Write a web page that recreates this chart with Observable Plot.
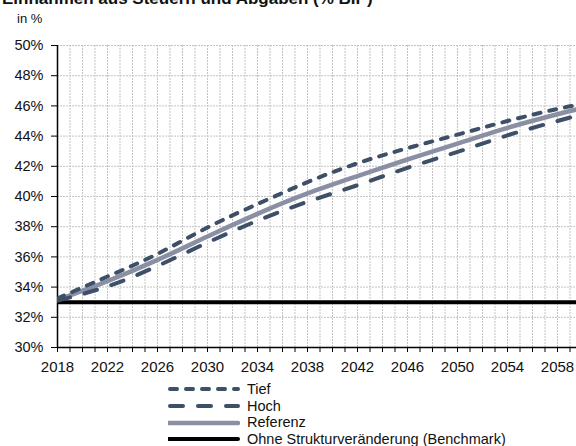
<!DOCTYPE html>
<html>
<head>
<meta charset="utf-8">
<script src="https://cdn.jsdelivr.net/npm/d3@7"></script>
<script src="https://cdn.jsdelivr.net/npm/@observablehq/plot@0.6"></script>
<style>
  html, body { margin: 0; padding: 0; background: #fff; overflow: hidden; }
  body { width: 576px; height: 446px; position: relative; font-family: "Liberation Sans", Arial, sans-serif; color: #111; }
  #title { position: absolute; left: 2px; top: -10px; font-size: 17px; font-weight: bold; line-height: 17px; white-space: nowrap; }
  #unit { position: absolute; left: 17px; top: 12px; font-size: 13px; line-height: 14px; }
  #chart { position: absolute; left: 0; top: 30px; }
  #legend { position: absolute; left: 168px; top: 381px; font-size: 14.5px; line-height: 16.7px; }
  #legend div { display: flex; align-items: center; height: 16.7px; white-space: nowrap; }
  #legend svg { margin-right: 7px; }
</style>
</head>
<body>
<div id="title">Einnahmen aus Steuern und Abgaben (% BIP)</div>
<div id="unit">in %</div>
<div id="chart"></div>
<div id="legend"></div>
<script>
// Jahre der Stützpunkte
const years = [2018, 2022, 2026, 2030, 2034, 2038, 2042, 2046, 2050, 2054, 2058, 2060];
// Szenarien, Einnahmenquote in % des BIP
const tief     = [33.25, 34.7, 36.2, 37.95, 39.5, 40.95, 42.2, 43.2, 44.1, 45.0, 45.8, 46.1];
const hoch     = [33.1, 34.05, 35.4, 36.95, 38.4, 39.65, 40.75, 41.9, 42.95, 44.05, 45.0, 45.45];
const referenz = [33.15, 34.4, 35.8, 37.35, 38.85, 40.2, 41.35, 42.45, 43.5, 44.55, 45.45, 45.85];
const benchmark = [33.0, 33.0, 33.0, 33.0, 33.0, 33.0, 33.0, 33.0, 33.0, 33.0, 33.0, 33.0];
// Achsen
const yTicks = [30, 32, 34, 36, 38, 40, 42, 44, 46, 48, 50];
const xLabelYears = [2018, 2022, 2026, 2030, 2034, 2038, 2042, 2046, 2050, 2054, 2058];
const xTickYears = d3.range(2018, 2060);

const series = [
  {name: "Tief", values: tief, stroke: "#3e4f68", width: 4, dash: "7,9"},
  {name: "Hoch", values: hoch, stroke: "#3e4f68", width: 4, dash: "13,15"},
  {name: "Referenz", values: referenz, stroke: "#8a8fa4", width: 4.5, dash: null},
  {name: "Ohne Strukturveränderung (Benchmark)", values: benchmark, stroke: "#000", width: 4, dash: null}
];

const rows = s => years.map((y, i) => ({year: y, value: s.values[i]}));

const lineMarks = series.slice().reverse().map(s =>
  Plot.line(rows(s), {
    x: "year", y: "value",
    stroke: s.stroke, strokeWidth: s.width,
    strokeDasharray: s.dash ?? undefined,
    strokeLinecap: s.dash ? "round" : "butt",
    curve: s.name.startsWith("Ohne") ? "linear" : "natural",
    clip: true
  })
);

const chart = Plot.plot({
  width: 576,
  height: 348,
  marginTop: 15,
  marginLeft: 57,
  marginRight: 0,
  marginBottom: 31,
  style: {fontFamily: "Liberation Sans, Arial, sans-serif", color: "#111", background: "#fff"},
  x: {domain: [2018, 2059.52]},
  y: {domain: [30, 50]},
  marks: [
    Plot.gridX(xTickYears.filter(y => y > 2018), {stroke: "#c4c4c4", strokeOpacity: 1, strokeDasharray: "2,1"}),
    Plot.gridY(yTicks.filter(v => v > 30), {stroke: "#c4c4c4", strokeOpacity: 1, strokeDasharray: "2,1"}),
    Plot.axisX(xTickYears, {tickSize: 5, tickFormat: () => "", stroke: "#000", label: null}),
    Plot.axisX(xLabelYears, {tickSize: 5, tickPadding: 9, tickFormat: d => String(d), fontSize: 15, stroke: "#000", label: null}),
    Plot.axisY(yTicks, {tickSize: 6, tickPadding: 8, tickFormat: d => d + "%", fontSize: 14.5, stroke: "#000", label: null}),
    Plot.ruleX([2018], {stroke: "#000", strokeWidth: 1.5}),
    Plot.ruleY([30], {stroke: "#000", strokeWidth: 1.5}),
    ...lineMarks
  ]
});
document.getElementById("chart").appendChild(chart);

// Legende
const legend = document.getElementById("legend");
for (const s of series) {
  const row = document.createElement("div");
  const svg = d3.create("svg").attr("width", 72).attr("height", 8);
  svg.append("line")
    .attr("x1", s.dash ? 2 : 0).attr("x2", 70).attr("y1", 4).attr("y2", 4)
    .attr("stroke", s.stroke).attr("stroke-width", s.width)
    .attr("stroke-dasharray", s.dash)
    .attr("stroke-linecap", "round");
  row.appendChild(svg.node());
  const label = document.createElement("span");
  label.textContent = s.name;
  row.appendChild(label);
  legend.appendChild(row);
}
</script>
</body>
</html>
